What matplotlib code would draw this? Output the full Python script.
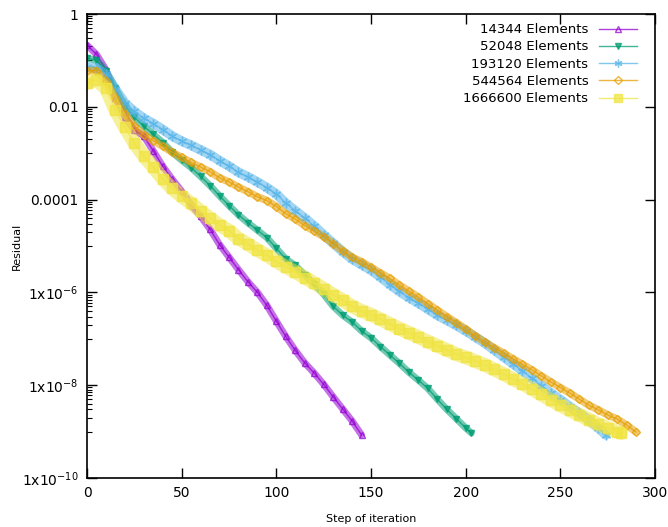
import numpy as np
import matplotlib

matplotlib.use("Agg")
import matplotlib.pyplot as plt
from matplotlib.ticker import FixedLocator, FixedFormatter, NullFormatter

# log10(residual), one value every 5 iterations (+ last step)
labels = ["14344 Elements", "52048 Elements", "193120 Elements",
          "544564 Elements", "1666600 Elements"]
last_step = [145, 203, 274, 290, 282]

log_res_14344 = [-0.67, -0.87, -1.20, -1.80, -2.22, -2.50, -2.63, -2.95, -3.28, -3.56,
                 -3.82, -4.11, -4.36, -4.64, -4.97, -5.24, -5.51, -5.77, -6.00, -6.28,
                 -6.62, -6.95, -7.25, -7.52, -7.74, -7.98, -8.25, -8.51, -8.77, -9.07]
log_res_52048 = [-0.95, -1.00, -1.22, -1.60, -1.98, -2.22, -2.42, -2.59, -2.77, -2.98,
                 -3.15, -3.31, -3.50, -3.70, -3.92, -4.13, -4.33, -4.50, -4.66, -4.82,
                 -5.05, -5.28, -5.42, -5.62, -5.82, -6.04, -6.30, -6.49, -6.64, -6.83,
                 -6.98, -7.17, -7.35, -7.53, -7.72, -7.89, -8.07, -8.30, -8.52, -8.72,
                 -8.92, -9.03]
log_res_193120 = [-1.14, -1.17, -1.30, -1.62, -1.92, -2.10, -2.25, -2.36, -2.49, -2.63,
                  -2.74, -2.83, -2.93, -3.03, -3.16, -3.28, -3.41, -3.51, -3.62, -3.74,
                  -3.88, -4.08, -4.24, -4.40, -4.57, -4.76, -4.94, -5.12, -5.28, -5.40,
                  -5.52, -5.67, -5.83, -5.98, -6.11, -6.23, -6.36, -6.49, -6.60, -6.71,
                  -6.83, -6.96, -7.09, -7.24, -7.39, -7.54, -7.69, -7.85, -8.01, -8.17,
                  -8.31, -8.46, -8.60, -8.75, -8.92, -9.07]
log_res_544564 = [-1.22, -1.22, -1.45, -1.80, -2.15, -2.42, -2.60, -2.73, -2.85, -2.98,
                  -3.09, -3.20, -3.30, -3.40, -3.53, -3.62, -3.73, -3.83, -3.94, -4.02,
                  -4.15, -4.30, -4.42, -4.56, -4.68, -4.80, -4.95, -5.10, -5.24, -5.34,
                  -5.46, -5.58, -5.70, -5.84, -5.97, -6.10, -6.24, -6.38, -6.52, -6.65,
                  -6.79, -6.93, -7.07, -7.19, -7.31, -7.43, -7.55, -7.67, -7.80, -7.93,
                  -8.05, -8.17, -8.30, -8.43, -8.53, -8.64, -8.73, -8.86, -9.01]
log_res_1666600 = [-1.49, -1.42, -1.60, -2.07, -2.44, -2.78, -3.06, -3.30, -3.55, -3.76,
                   -3.93, -4.08, -4.25, -4.40, -4.55, -4.67, -4.84, -4.96, -5.09, -5.20,
                   -5.33, -5.45, -5.56, -5.68, -5.80, -5.92, -6.05, -6.17, -6.30, -6.40,
                   -6.48, -6.58, -6.68, -6.78, -6.87, -6.96, -7.06, -7.15, -7.24, -7.33,
                   -7.40, -7.48, -7.56, -7.66, -7.76, -7.87, -7.97, -8.08, -8.20, -8.32,
                   -8.43, -8.54, -8.64, -8.74, -8.84, -8.92, -9.00, -9.03]

series = [log_res_14344, log_res_52048, log_res_193120, log_res_544564, log_res_1666600]

# gnuplot-like colours and point types
colors = ["#9400d3", "#009e73", "#56b4e9", "#e69f00", "#f0e442"]
markers = ["^", "v", (6, 2, 0), "D", "s"]
filled = [False, True, True, False, True]
msizes = [5, 5, 7, 4.5, 7]
band_w = [5, 5, 7, 5.5, 10]

fig = plt.figure(figsize=(6.68, 5.27), dpi=100)
ax = fig.add_axes([87 / 668, 1 - 478 / 527, 568 / 668, 464 / 527])

for lab, last, vals, c, m, f, ms, bw in zip(labels, last_step, series, colors,
                                             markers, filled, msizes, band_w):
    steps = list(range(0, last, 5)) + [last]
    res = 10.0 ** np.array(vals)
    # dense point band (the original has a point at every iteration)
    ax.plot(steps, res, color=c, alpha=0.55, lw=bw, solid_capstyle="round",
            solid_joinstyle="round")
    ax.plot(steps, res, color=c, alpha=0.75, lw=1.0, marker=m, ms=ms,
            mfc=c if f else "none", mec=c, mew=1.0, label=lab)

ax.set_yscale("log")
ax.set_xlim(0, 300)
ax.set_ylim(1e-10, 1)
ax.set_xticks(range(0, 301, 50))

major = [1, 1e-2, 1e-4, 1e-6, 1e-8, 1e-10]
major_lab = ["1", "0.01", "0.0001", r"1x10$^{-6}$", r"1x10$^{-8}$", r"1x10$^{-10}$"]
ax.yaxis.set_major_locator(FixedLocator(major))
ax.yaxis.set_major_formatter(FixedFormatter(major_lab))
minor = [10.0 ** (-2 * j) * k / 10 for j in range(5) for k in range(1, 10)]
ax.yaxis.set_minor_locator(FixedLocator(minor))
ax.yaxis.set_minor_formatter(NullFormatter())

ax.tick_params(axis="both", which="major", direction="in", length=7, width=1,
               top=True, right=True, labelsize=10, pad=6)
ax.tick_params(axis="y", which="minor", direction="in", length=3.5, width=0.8,
               right=False)
for sp in ax.spines.values():
    sp.set_linewidth(1.2)

ax.set_xlabel("Step of iteration", fontsize=8, labelpad=10)
ax.set_ylabel("Residual", fontsize=8)
ax.yaxis.set_label_coords(-0.115, 0.5)

ax.legend(loc="upper right", bbox_to_anchor=(0.985, 1.0), frameon=False,
          markerfirst=False, fontsize=9.5, handlelength=2.9, handletextpad=0.8,
          labelspacing=0.32, borderaxespad=0.3, markerscale=0.8)

fig.savefig("out.png", dpi=100)
